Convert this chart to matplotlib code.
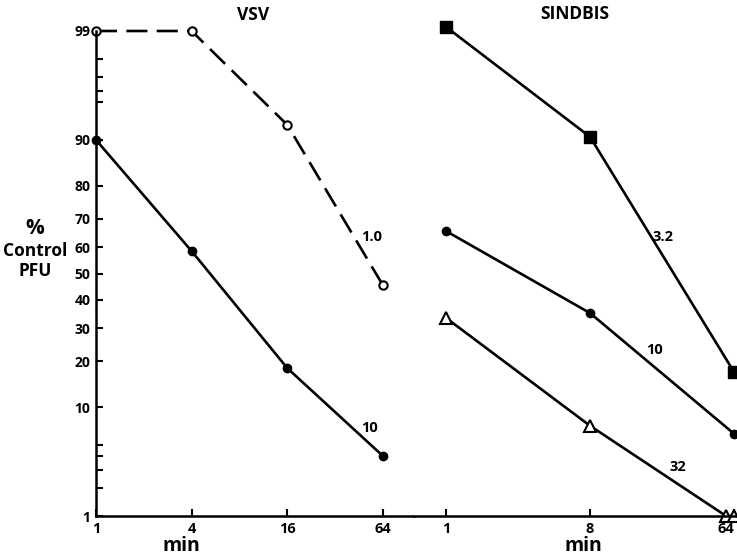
import matplotlib
matplotlib.use("Agg")
import matplotlib.pyplot as plt
import numpy as np
from statistics import NormalDist

# VSV panel
vsv_min = [1, 4, 16, 64]
vsv_1_0 = [99, 99, 92.3, 45.5]
vsv_10 = [90, 58.5, 18.2, 4.0]

# SINDBIS panel
sin_min = [1, 8, 64]
sin_3_2 = [99.1, 90.5, 17.2]
sin_10 = [65.8, 35.2, 6.2]
sin_32_min = [1, 8, 57, 64]
sin_32 = [33.5, 7.2, 1.0, 1.0]

y_major = [1, 10, 20, 30, 40, 50, 60, 70, 80, 90, 99]
y_minor = [2, 3, 4, 5, 95, 96, 97, 98]

_nd = NormalDist()
_fwd = np.vectorize(lambda p: _nd.inv_cdf(min(max(p / 100.0, 1e-9), 1 - 1e-9)),
                    otypes=[float])
_inv = np.vectorize(lambda z: _nd.cdf(z) * 100.0, otypes=[float])

def probit(p):
    return _fwd(np.asarray(p, dtype=float))

def unprobit(z):
    return _inv(np.asarray(z, dtype=float))

plt.rcParams['font.family'] = ['Open Sans', 'DejaVu Sans']
plt.rcParams['font.weight'] = 'bold'

W, H = 737, 560
fig = plt.figure(figsize=(W / 100, H / 100), dpi=100)

left_px, split_px, right_px = 96, 414, 737
top_px, bot_px = 31, 516
bottom = 1 - bot_px / H
height = (bot_px - top_px) / H
ax1 = fig.add_axes([left_px / W, bottom, (split_px - left_px) / W, height])
ax2 = fig.add_axes([split_px / W, bottom, (right_px - split_px) / W, height])

for ax in (ax1, ax2):
    ax.set_xscale('log', base=2)
    ax.set_yscale('function', functions=(probit, unprobit))
    ax.set_ylim(1, 99)
    for s in ('top', 'right'):
        ax.spines[s].set_visible(False)
    ax.spines['bottom'].set_linewidth(1.8)
    ax.spines['left'].set_linewidth(1.8)
    ax.tick_params(which='both', direction='in', length=5, width=1.5,
                   labelsize=10.5, pad=4)
    ax.xaxis.set_minor_locator(matplotlib.ticker.NullLocator())

ax1.set_xlim(1, 64 * 2 ** 0.65)
ax2.set_xlim(2 ** -0.667, 64 * 2 ** 0.06)

ax1.set_xticks(vsv_min)
ax1.set_xticklabels([str(v) for v in vsv_min])
ax2.set_xticks(sin_min)
labs = ax2.set_xticklabels([str(v) for v in sin_min])
labs[-1].set_ha('right')

ax1.set_yticks(y_major)
ax1.set_yticklabels([str(v) for v in y_major], fontsize=10)
ax1.set_yticks(y_minor, minor=True)
ax1.yaxis.set_minor_formatter(matplotlib.ticker.NullFormatter())
ax1.tick_params(axis='y', which='both', pad=4)

ax2.spines['left'].set_visible(False)
ax2.set_yticks([])
ax2.set_yticks([], minor=True)

lw = 1.9
# VSV curves
l, = ax1.plot(vsv_min, vsv_1_0, color='black', lw=lw, marker='o', ms=6,
              mfc='white', mec='black', mew=1.5, clip_on=False)
l.set_dashes([8, 3.5])
ax1.plot(vsv_min, vsv_10, color='black', lw=lw, marker='o', ms=6,
         mfc='black', mec='black', clip_on=False)

# SINDBIS curves
ax2.plot(sin_min, sin_3_2, color='black', lw=lw, marker='s', ms=8,
         mfc='black', mec='black', clip_on=False)
ax2.plot(sin_min, sin_10, color='black', lw=lw, marker='o', ms=6,
         mfc='black', mec='black', clip_on=False)
ax2.plot(sin_32_min, sin_32, color='black', lw=lw, marker='^', ms=9,
         mfc='white', mec='black', mew=1.5, clip_on=False)

# curve labels
ax1.text(54.7, 63.7, '1.0', fontsize=10.5, ha='center', va='center')
ax1.text(52.4, 6.9, '10', fontsize=10.5, ha='center', va='center')
ax2.text(23, 63.8, '3.2', fontsize=10.5, ha='center', va='center')
ax2.text(20.4, 23.2, '10', fontsize=10.5, ha='center', va='center')
ax2.text(28.5, 3.2, '32', fontsize=10.5, ha='center', va='center')

# titles and axis labels
fig.text(253 / W, 1 - 15 / H, 'VSV', fontsize=12.5, ha='center', va='center')
fig.text(575 / W, 1 - 14 / H, 'SINDBIS', fontsize=12.5, ha='center', va='center')
fig.text(181 / W, 1 - 546 / H, 'min', fontsize=14, ha='center', va='center')
fig.text(583 / W, 1 - 546 / H, 'min', fontsize=14, ha='center', va='center')
fig.text(35 / W, 1 - 228 / H, '%', fontsize=15, ha='center', va='center')
fig.text(35 / W, 1 - 261 / H, 'Control\nPFU', fontsize=12.5, ha='center',
         va='center', linespacing=1.1)

fig.savefig('out.png', dpi=100)
